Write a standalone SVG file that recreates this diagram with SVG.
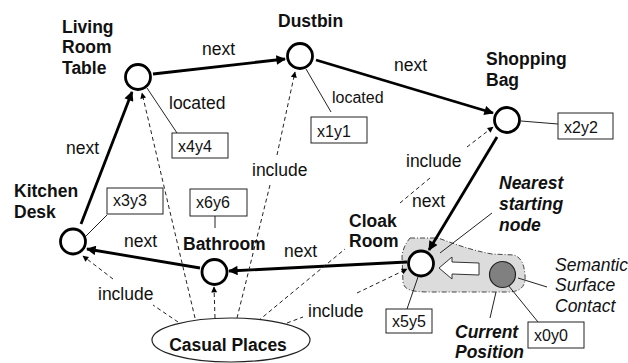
<svg xmlns="http://www.w3.org/2000/svg" width="628" height="363" viewBox="0 0 628 363">
<style>
text{font-family:"Liberation Sans",Arial,sans-serif;fill:#111}
.lbl{font-size:17.5px}
.b{font-size:17.5px;font-weight:bold}
.bi{font-size:17.5px;font-weight:bold;font-style:italic}
.it{font-size:17.5px;font-style:italic}
.bx{font-size:16px}
.node{fill:#fff;stroke:#000;stroke-width:2.8}
.box{fill:#fff;stroke:#222;stroke-width:1}
.thick{stroke:#000;stroke-width:2.8;fill:none}
.thin{stroke:#222;stroke-width:1;fill:none}
.dash{stroke:#222;stroke-width:1;fill:none;stroke-dasharray:4,3}
</style>
<defs>
<marker id="ah" viewBox="0 0 10 10" refX="9" refY="5" markerWidth="4" markerHeight="3.4" orient="auto" markerUnits="strokeWidth">
<path d="M0,0L10,5L0,10z" fill="#000"/>
</marker>
<marker id="ahs" viewBox="0 0 10 10" refX="9" refY="5" markerWidth="7" markerHeight="6" orient="auto" markerUnits="strokeWidth">
<path d="M0,0L10,5L0,10z" fill="#000"/>
</marker>
</defs>
<rect width="628" height="363" fill="#fff"/>

<g id="surface">
<path d="M410,238 L438,238 C455,244 470,250 492,254 L514,255 C522,258 524,265 525,275 C526,285 522,291 510,292 L430,292 C412,292 404,290 403,282 L402,256 C403,248 406,243 410,238 Z" fill="#dcdcdc" stroke="#444" stroke-width="1" stroke-dasharray="5,2,1,2"/>
</g>

<g id="connectors">
<line class="thick" x1="153" y1="74" x2="285" y2="59" marker-end="url(#ah)"/>
<line class="thick" x1="316" y1="60" x2="493" y2="113" marker-end="url(#ah)"/>
<line class="thick" x1="81" y1="224" x2="132" y2="92" marker-end="url(#ah)"/>
<line class="thick" x1="200" y1="268" x2="87" y2="249" marker-end="url(#ah)"/>
<line class="thick" x1="407" y1="262" x2="229" y2="271" marker-end="url(#ah)"/>
<line class="thick" x1="497" y1="137" x2="429" y2="250" marker-end="url(#ah)"/>

<line class="dash" x1="195" y1="318" x2="142" y2="93" marker-end="url(#ahs)"/>
<line class="dash" x1="215" y1="318" x2="214" y2="287" marker-end="url(#ahs)"/>
<line class="dash" x1="237" y1="318" x2="270" y2="185"/>
<line class="dash" x1="277" y1="155" x2="295" y2="72" marker-end="url(#ahs)"/>
<line class="dash" x1="178" y1="322" x2="153" y2="305"/>
<line class="dash" x1="113" y1="279" x2="83" y2="256" marker-end="url(#ahs)"/>
<line class="dash" x1="258" y1="321" x2="345" y2="249"/>
<line class="dash" x1="400" y1="203" x2="430" y2="178"/>
<line class="dash" x1="467" y1="147" x2="493" y2="127" marker-end="url(#ahs)"/>
<line class="dash" x1="287" y1="323" x2="303" y2="317"/>
<line class="dash" x1="357" y1="293" x2="407" y2="269" marker-end="url(#ahs)"/>

<line class="thin" x1="147" y1="88" x2="177" y2="133"/>
<line class="thin" x1="306" y1="69" x2="331" y2="112"/>
<line class="thin" x1="521" y1="121" x2="558" y2="124"/>
<line class="thin" x1="85" y1="237" x2="107" y2="215"/>
<line class="thin" x1="215" y1="216" x2="215" y2="228"/>
<line class="thin" x1="418" y1="277" x2="407" y2="309"/>
<line class="thin" x1="508" y1="285" x2="538" y2="322"/>
<line class="thin" x1="492" y1="213" x2="440" y2="253"/>
<line class="thin" x1="518" y1="278" x2="547" y2="287"/>
<line class="thin" x1="496" y1="292" x2="490" y2="318"/>
</g>

<g id="arrow-block">
<polygon points="439,268 452,257 452,262 479,263 479,275 452,274 452,279" fill="#fff" stroke="#333" stroke-width="1"/>
</g>

<g id="living-room-table">
<circle class="node" cx="138" cy="77" r="12.5"/>
<text class="b" x="62" y="32.5">Living</text>
<text class="b" x="62" y="53">Room</text>
<text class="b" x="62" y="73.5">Table</text>
</g>
<g id="dustbin">
<circle class="node" cx="300" cy="56" r="12.5"/>
<text class="b" x="278" y="27">Dustbin</text>
</g>
<g id="shopping-bag">
<circle class="node" cx="507" cy="120" r="12.5"/>
<text class="b" x="486" y="65">Shopping</text>
<text class="b" x="486" y="86">Bag</text>
</g>
<g id="kitchen-desk">
<circle class="node" cx="73" cy="241.5" r="12.5"/>
<text class="b" x="14" y="197">Kitchen</text>
<text class="b" x="14" y="218">Desk</text>
</g>
<g id="bathroom">
<circle class="node" cx="214.5" cy="272" r="12.5"/>
<text class="b" x="183" y="250">Bathroom</text>
</g>
<g id="cloak-room">
<circle class="node" cx="421" cy="263.5" r="12.5"/>
<text class="b" x="349" y="227">Cloak</text>
<text class="b" x="349" y="247">Room</text>
</g>
<g id="current-position">
<circle cx="502.5" cy="274.5" r="13" fill="#808080" stroke="#222" stroke-width="1.2"/>
<text class="bi" x="455" y="337.5">Current</text>
<text class="bi" x="455" y="358">Position</text>
</g>
<g id="casual-places">
<ellipse cx="231" cy="340" rx="79" ry="22" fill="#fff" stroke="#222" stroke-width="1.2"/>
<text class="b" x="228" y="351" text-anchor="middle">Casual Places</text>
</g>

<g id="boxes">
<rect class="box" x="172" y="133" width="56" height="25"/><text class="bx" x="178" y="152">x4y4</text>
<rect class="box" x="311" y="117" width="56" height="26"/><text class="bx" x="317" y="137">x1y1</text>
<rect class="box" x="558" y="113" width="55" height="26"/><text class="bx" x="564" y="133">x2y2</text>
<rect class="box" x="107" y="188" width="56" height="26"/><text class="bx" x="113" y="206">x3y3</text>
<rect class="box" x="190" y="189" width="57" height="27"/><text class="bx" x="196" y="208">x6y6</text>
<rect class="box" x="386" y="309" width="46" height="24"/><text class="bx" x="392" y="327">x5y5</text>
<rect class="box" x="528" y="322" width="56" height="26"/><text class="bx" x="534" y="341">x0y0</text>
</g>

<g id="labels">
<text class="lbl" x="202" y="55">next</text>
<text class="lbl" x="169" y="109">located</text>
<text class="lbl" x="332" y="103" style="font-size:16px">located</text>
<text class="lbl" x="394" y="71">next</text>
<text class="lbl" x="66" y="154">next</text>
<text class="lbl" x="252" y="176">include</text>
<text class="lbl" x="406" y="167">include</text>
<text class="lbl" x="412" y="207">next</text>
<text class="lbl" x="124" y="247">next</text>
<text class="lbl" x="284" y="257">next</text>
<text class="lbl" x="98" y="300">include</text>
<text class="lbl" x="308" y="317">include</text>
<text class="bi" x="499" y="189">Nearest</text>
<text class="bi" x="499" y="210">starting</text>
<text class="bi" x="499" y="231">node</text>
<text class="it" x="555" y="270.5">Semantic</text>
<text class="it" x="555" y="291">Surface</text>
<text class="it" x="555" y="312">Contact</text>
</g>
</svg>
